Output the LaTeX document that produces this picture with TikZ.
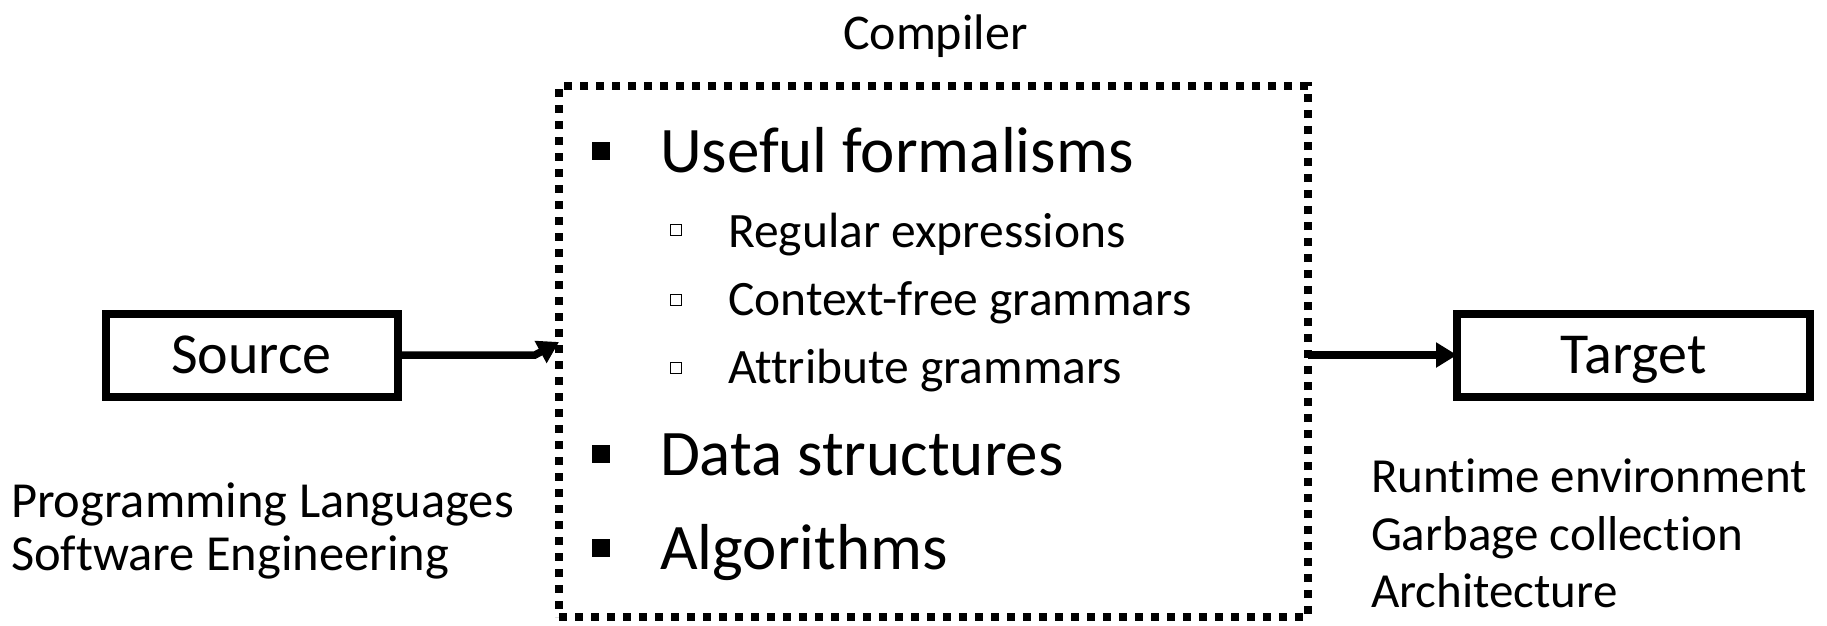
\documentclass[tikz,border=0pt]{standalone}
\usepackage{fontspec}
\setmainfont{Carlito}[Ligatures={NoCommon}]
\usetikzlibrary{arrows.meta,calc}

\newcommand{\fsz}[1]{\fontsize{#1}{#1}\selectfont}

\tikzset{
  every node/.style={inner sep=0pt, outer sep=0pt},
  endbox/.style={draw, line width=8pt, minimum width=292pt, minimum height=83pt,
                 text height=44pt, text depth=8pt, font=\fsz{58}},
  dotbox/.style={draw, line width=8pt, dash pattern=on 8pt off 8pt},
  conn/.style={line width=7.5pt, -{Triangle[length=21pt,width=24pt]}},
  lbl/.style={anchor=base west},
  topitem/.style={lbl, font=\fsz{65}},
  subitem/.style={lbl, font=\fsz{49.5}},
  note/.style={lbl, font=\fsz{50}},
  fullbullet/.style={fill, minimum size=18pt},
  openbullet/.style={draw, line width=1.8pt, minimum size=11pt},
}

\begin{document}
\begin{tikzpicture}[x=1pt, y=-1pt]
  \useasboundingbox (0,0) rectangle (1827,625);

  % title
  \node[note] (title) at (843,49) {Compiler};

  % the compiler box
  \node[dotbox, minimum width=749pt, minimum height=531pt] (comp) at (933.5,351.5) {};

  % source and target
  \node[endbox] (src) at (251.5,355) {Source};
  \node[endbox, minimum width=353pt] (tgt) at (1633.5,355) {Target};

  % contents of the compiler box
  \node[fullbullet] (b1) at (601,151) {};
  \node[topitem] (t1) at (660,172) {Useful formalisms};
  \node[openbullet] (s1) at (676,230) {};
  \node[subitem] (u1) at (728,247) {Regular expressions};
  \node[openbullet] (s2) at (676,300) {};
  \node[subitem] (u2) at (728,315) {Context-free grammars};
  \node[openbullet] (s3) at (676,368) {};
  \node[subitem] (u3) at (728,383) {Attribute grammars};
  \node[fullbullet] (b2) at (601,454) {};
  \node[topitem] (t2) at (660,475) {Data structures};
  \node[fullbullet] (b3) at (601,548) {};
  \node[topitem] (t3) at (660,569) {Algorithms};

  % side notes
  \node[note, font=\fsz{50.5}] (l1) at (11,517) {Programming Languages};
  \node[note, font=\fsz{50.5}] (l2) at (11,570) {Software Engineering};
  \node[note, font=\fsz{49}] (r1) at (1371,492) {Runtime environment};
  \node[note, font=\fsz{49}] (r2) at (1371,550) {Garbage collection};
  \node[note, font=\fsz{49}] (r3) at (1371,607) {Architecture};

  % connectors (the left head is tilted upwards)
  \coordinate (inl) at (comp.west |- src.east);
  \draw[conn] (src.east) -- ($(inl)+(-24,0)$) -- ($(inl)+(0,-13)$);
  \draw[conn] (comp.east |- tgt.west) -- (tgt.west);
\end{tikzpicture}
\end{document}
